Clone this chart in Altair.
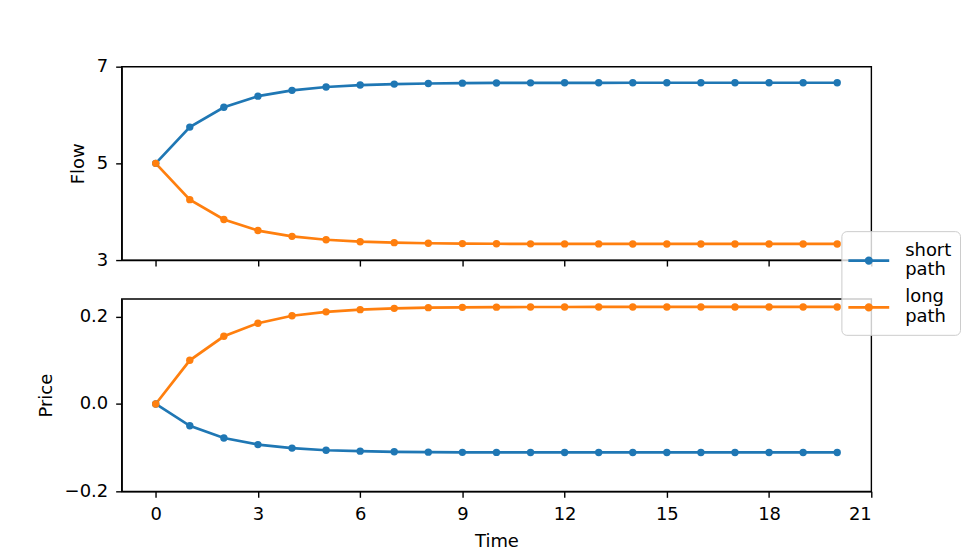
import altair as alt
import pandas as pd

time = list(range(21))
series = ["short path", "long path"]
flow_short = [5.0, 5.75, 6.16, 6.39, 6.51, 6.58, 6.62, 6.64, 6.652, 6.659, 6.663,
              6.665, 6.666, 6.666, 6.667, 6.667, 6.667, 6.667, 6.667, 6.667, 6.667]
flow_long = [5.0, 4.25, 3.84, 3.61, 3.49, 3.42, 3.38, 3.36, 3.348, 3.341, 3.337,
             3.335, 3.334, 3.334, 3.333, 3.333, 3.333, 3.333, 3.333, 3.333, 3.333]
price_short = [0.0, -0.050, -0.078, -0.093, -0.101, -0.106, -0.108, -0.1095, -0.1103,
               -0.1107, -0.1109, -0.111, -0.111, -0.111, -0.111, -0.111, -0.111,
               -0.111, -0.111, -0.111, -0.111]
price_long = [0.0, 0.100, 0.155, 0.185, 0.202, 0.211, 0.216, 0.219, 0.2205, 0.2213,
              0.2217, 0.222, 0.2221, 0.2222, 0.2222, 0.2222, 0.2222, 0.2222, 0.2222,
              0.2222, 0.2222]
x_ticks = [0, 3, 6, 9, 12, 15, 18, 21]
flow_ticks = [3, 5, 7]
price_ticks = [-0.2, 0.0, 0.2]

rows = []
for i, t in enumerate(time):
    rows.append({"Time": t, "series": series[0], "Flow": flow_short[i], "Price": price_short[i]})
    rows.append({"Time": t, "series": series[1], "Flow": flow_long[i], "Price": price_long[i]})
df = pd.DataFrame(rows)

FONT = "DejaVu Sans"
FS = 18
colors = ["#1f77b4", "#ff7f0e"]

# legend glyph: a line with a filled dot (drawn as concentric rings)
yo = 1.0
cx = 0.8
def ring(r):
    return (f"M{cx - r},{yo}a{r},{r} 0 1,0 {2*r},0a{r},{r} 0 1,0 {-2*r},0")
glyph = f"M-1.25,{yo}L2.85,{yo}" + ring(0.08) + ring(0.2) + ring(0.28)

color = alt.Color(
    "series:N",
    scale=alt.Scale(domain=series, range=colors),
    legend=alt.Legend(
        title=None,
        orient="none",
        legendX=722,
        legendY=165,
        labelExpr="split(datum.label, ' ')",
        symbolType=glyph,
        symbolSize=400,
        symbolStrokeWidth=2.7,
        labelFontSize=FS,
        labelFont=FONT,
        labelColor="black",
        labelOffset=33,
        rowPadding=6,
        padding=8,
        fillColor="rgba(255,255,255,0.8)",
        strokeColor="#cccccc",
        cornerRadius=5,
    ),
    sort=series,
)

xscale = alt.Scale(domain=[-1, 21], nice=False, zero=False)

base = alt.Chart(df)

top_line = base.mark_line(strokeWidth=2.7).encode(
    x=alt.X("Time:Q", scale=xscale,
            axis=alt.Axis(values=x_ticks, labels=False, title=None)),
    y=alt.Y("Flow:Q", scale=alt.Scale(domain=[3, 7], nice=False, zero=False),
            axis=alt.Axis(values=flow_ticks, format="d", title="Flow")),
    color=color,
)
top_pts = base.mark_point(filled=True, size=55, opacity=1).encode(
    x="Time:Q", y="Flow:Q", color=color)
top = alt.layer(top_line, top_pts).properties(width=752, height=194)

bot_line = base.mark_line(strokeWidth=2.7).encode(
    x=alt.X("Time:Q", scale=xscale,
            axis=alt.Axis(values=x_ticks, format="d", title="Time")),
    y=alt.Y("Price:Q", scale=alt.Scale(domain=[-0.2, 0.2405], nice=False, zero=False),
            axis=alt.Axis(values=price_ticks, format=".1f", title="Price")),
    color=color,
)
bot_pts = base.mark_point(filled=True, size=55, opacity=1).encode(
    x="Time:Q", y="Price:Q", color=color)
bottom = alt.layer(bot_line, bot_pts).properties(width=752, height=193)

chart = alt.vconcat(top, bottom, spacing=28).properties(
    padding={"left": 28, "top": 48, "right": 0, "bottom": 0},
    background="white",
).configure_view(
    stroke="black", strokeWidth=1.4
).configure_axis(
    grid=False,
    domainColor="black",
    domainWidth=1.4,
    tickColor="black",
    tickWidth=1.4,
    tickSize=6,
    labelFont=FONT,
    labelFontSize=FS,
    labelColor="black",
    labelPadding=8,
    titleFont=FONT,
    titleFontSize=FS,
    titleFontWeight="normal",
    titleColor="black",
    titlePadding=9,
)

chart.save("out.html", embed_options={"renderer": "svg", "actions": False})
